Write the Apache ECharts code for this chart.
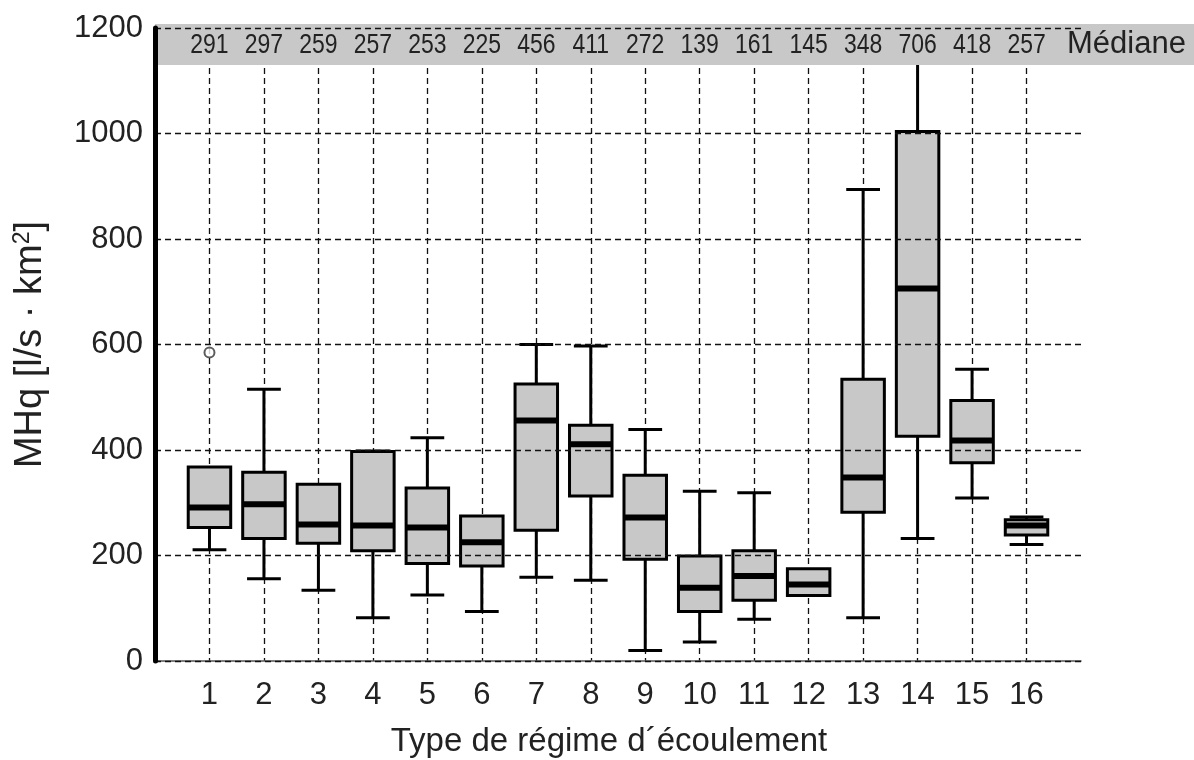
<!DOCTYPE html>
<html>
<head>
<meta charset="utf-8">
<script src="https://cdn.jsdelivr.net/npm/echarts@6/dist/echarts.min.js"></script>
<style>html,body{margin:0;padding:0;background:#fff}#c{width:1194px;height:760px}</style>
</head>
<body>
<div id="c"></div>
<script>
const categories = ['1','2','3','4','5','6','7','8','9','10','11','12','13','14','15','16'];
const medians = [291,297,259,257,253,225,456,411,272,139,161,145,348,706,418,257];
const q1 = [253,232,223,209,185,180,248,313,193,94,115,124,282,426,376,239];
const q3 = [368,358,335,397,328,275,525,447,352,199,209,175,534,1004,494,268];
const whiskerLow = [211,156,134,82,125,94,159,153,20,36,79,124,82,232,309,221];
const whiskerHigh = [368,515,335,398,423,275,600,597,439,322,319,175,894,1200,553,273];
const outliers = [[1, 585]];
const yTicks = [0,200,400,600,800,1000,1200];
const medianRowValue = 1167;

const SANS = '"Liberation Sans", Arial, sans-serif';

const bottomCats = [''].concat(categories, ['']);
const boxData = categories.map((c, i) => [i + 1, whiskerLow[i], q1[i], medians[i], q3[i], whiskerHigh[i]]);
const medianLabelData = medians.map((m, i) => [i + 1, medianRowValue, m]);

const chart = echarts.init(document.getElementById('c'));
const dash = {color:'#111', type:[6,4], width:1.3};

chart.setOption({
  animation:false,
  grid:{left:155, top:28, width:926, height:633, outerBoundsMode:'none', containLabel:false},
  xAxis:{
    type:'category', data:bottomCats, boundaryGap:false, position:'bottom',
    axisLine:{lineStyle:{color:'#555', width:1.5}},
    axisTick:{show:false},
    axisLabel:{interval:(i)=> i>=1 && i<=16, color:'#222', fontFamily:SANS, fontSize:31, margin:19},
    splitLine:{show:true, interval:(i)=> i>=1 && i<=16, lineStyle:dash},
    name:'Type de régime d´écoulement', nameLocation:'middle', nameGap:64,
    nameTextStyle:{color:'#222', fontFamily:SANS, fontSize:33, padding:[0,18,0,0]}
  },
  yAxis:{
    type:'value', min:0, max:1200, interval:200, z:5,
    axisLine:{show:true, lineStyle:{color:'#000', width:5}},
    axisTick:{show:false},
    axisLabel:{color:'#222', fontFamily:SANS, fontSize:31, margin:12, formatter:(v)=> yTicks.includes(v) ? String(v) : ''},
    splitLine:{show:true, lineStyle:dash},
    name:'MHq [l/s · km{sup|2}]', nameLocation:'middle', nameGap:105, nameRotate:90,
    nameTextStyle:{color:'#222', fontFamily:SANS, fontSize:38,
      rich:{sup:{fontFamily:SANS, fontSize:23, color:'#222', verticalAlign:'top', padding:[0,0,16,0]}}}
  },
  series:[{
    type:'custom', z:2,
    data:boxData,
    renderItem:(params, api)=>{
      const x = api.value(0);
      const lo = api.coord([x, api.value(1)]);
      const b = api.coord([x, api.value(2)]);
      const m = api.coord([x, api.value(3)]);
      const t = api.coord([x, api.value(4)]);
      const hi = api.coord([x, api.value(5)]);
      const band = api.size([1,0])[0];
      const bw = band*0.78, cw = band*0.62;
      const cx = b[0];
      const ls = {stroke:'#000', lineWidth:3};
      const ch = [];
      if (api.value(1) < api.value(2)) {
        ch.push({type:'line', shape:{x1:cx,y1:lo[1],x2:cx,y2:b[1]}, style:ls});
        ch.push({type:'line', shape:{x1:cx-cw/2,y1:lo[1],x2:cx+cw/2,y2:lo[1]}, style:ls});
      }
      if (api.value(5) > api.value(4)) {
        ch.push({type:'line', shape:{x1:cx,y1:hi[1],x2:cx,y2:t[1]}, style:ls});
        ch.push({type:'line', shape:{x1:cx-cw/2,y1:hi[1],x2:cx+cw/2,y2:hi[1]}, style:ls});
      }
      ch.push({type:'rect', shape:{x:cx-bw/2, y:t[1], width:bw, height:b[1]-t[1]}, style:{fill:'#c8c8c8', stroke:'#000', lineWidth:3}});
      ch.push({type:'line', shape:{x1:cx-bw/2,y1:m[1],x2:cx+bw/2,y2:m[1]}, style:{stroke:'#000', lineWidth:6}});
      return {type:'group', children:ch};
    }
  },{
    type:'scatter', z:4,
    data:outliers, symbol:'circle', symbolSize:10,
    itemStyle:{color:'#fff', borderColor:'#333', borderWidth:2}
  },{
    type:'custom', z:6, silent:true,
    data:medianLabelData,
    renderItem:(params, api)=>{
      const p = api.coord([api.value(0), api.value(1)]);
      return {type:'text', x:p[0], y:p[1], scaleX:0.82,
        style:{text:String(api.value(2)), font:'28px ' + SANS, fill:'#222', align:'center', verticalAlign:'middle'}};
    }
  }]
});

const yBot = chart.convertToPixel({yAxisIndex:0}, 1130);
const yTop = chart.convertToPixel({yAxisIndex:0}, 1200) - 4;
const xL = chart.convertToPixel({xAxisIndex:0}, 0);
chart.setOption({graphic:[
  {type:'rect', z:3, shape:{x:xL, y:yTop, width:1194-xL, height:yBot-yTop}, style:{fill:'#c8c8c8'}},
  {type:'text', z:7, x:1067, y:(yTop+yBot)/2, style:{text:'Médiane', fill:'#222', font:'31px ' + SANS, verticalAlign:'middle', align:'left'}}
]});
</script>
</body>
</html>
